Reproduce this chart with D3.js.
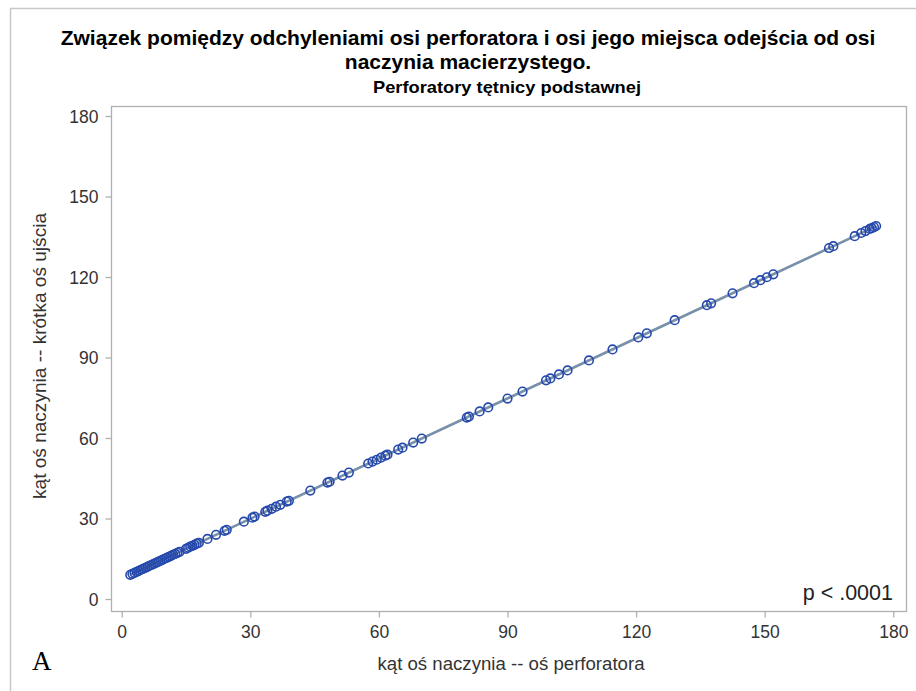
<!DOCTYPE html>
<html>
<head>
<meta charset="utf-8">
<script src="https://cdn.jsdelivr.net/npm/d3@7"></script>
<style>
  html, body { margin: 0; padding: 0; background: #fff; }
  svg { display: block; }
</style>
</head>
<body>
<svg id="chart" width="916" height="691"></svg>
<script>
// Angle of the vessel axis vs. perforator axis (x) and vs. the short axis of the ostium (y)
const perforatorAngle = [
  2.0, 2.5, 3.0, 3.5, 4.0, 4.5, 5.0, 5.5, 6.0, 6.5, 7.0, 7.5, 8.0, 8.5, 9.0, 9.5,
  10.0, 10.5, 11.0, 11.5, 12.0, 12.5, 13.0, 13.5,
  15.0, 15.5, 16.0, 16.5, 17.0, 17.5, 18.0,
  20.0, 22.0, 24.0, 24.5, 28.5, 30.5, 31.0, 33.5, 34.0, 35.0, 36.0, 37.0, 38.5, 39.0,
  44.0, 48.0, 48.5, 51.5, 53.0, 57.5, 58.5, 59.5, 60.5, 61.5, 62.0, 64.5, 65.5, 68.0, 70.0,
  80.5, 81.0, 83.5, 85.5, 90.0, 93.5, 99.0, 100.0, 102.0, 104.0, 109.0, 114.5,
  120.5, 122.5, 129.0, 136.5, 137.5, 142.5, 147.5, 149.0, 150.5, 152.0,
  165.0, 166.0, 171.0, 172.5, 173.5, 174.5, 175.0, 175.5, 176.0
];
const ostiumAngle = [
  9.0, 9.4, 9.7, 10.1, 10.5, 10.9, 11.2, 11.6, 12.0, 12.4, 12.7, 13.1, 13.5, 13.8, 14.2, 14.6,
  15.0, 15.3, 15.7, 16.1, 16.5, 16.8, 17.2, 17.6,
  18.7, 19.1, 19.5, 19.8, 20.2, 20.6, 20.9,
  22.4, 23.9, 25.4, 25.8, 28.8, 30.3, 30.7, 32.5, 32.9, 33.6, 34.4, 35.1, 36.3, 36.6,
  40.4, 43.4, 43.7, 46.0, 47.1, 50.5, 51.2, 51.9, 52.7, 53.4, 53.8, 55.7, 56.4, 58.3, 59.8,
  67.6, 68.0, 69.9, 71.4, 74.7, 77.3, 81.5, 82.2, 83.7, 85.2, 88.9, 93.0,
  97.5, 99.0, 103.9, 109.5, 110.2, 113.9, 117.7, 118.8, 119.9, 121.0,
  130.8, 131.5, 135.2, 136.4, 137.1, 137.9, 138.2, 138.6, 139.0
];
// Fitted regression line: intercept and slope
const fitIntercept = 7.5;
const fitSlope = 0.747;

const xTicks = [0, 30, 60, 90, 120, 150, 180];
const yTicks = [0, 30, 60, 90, 120, 150, 180];

const titleLines = [
  "Związek pomiędzy odchyleniami osi perforatora i osi jego miejsca odejścia od osi",
  "naczynia macierzystego."
];
const subtitle = "Perforatory tętnicy podstawnej";
const xLabel = "kąt oś naczynia -- oś perforatora";
const yLabel = "kąt oś naczynia -- krótka oś ujścia";
const pText = "p < .0001";
const panelLetter = "A";

const svg = d3.select("#chart");
const W = 916, H = 691;
const frame = { left: 111, right: 906, top: 106, bottom: 611 };

const x = d3.scaleLinear().domain([0, 180]).range([121.7, 893.3]);
const y = d3.scaleLinear().domain([0, 180]).range([599, 116]);

const sans = "'Liberation Sans', Arial, sans-serif";
const axisGray = "#b0b0b0";
const textColor = "#333";

// outer border
svg.append("path")
  .attr("d", `M10.5,${H} V8.5 H${W}`)
  .attr("fill", "none").attr("stroke", "#c8c8c8").attr("stroke-width", 1.5);

// titles
svg.append("g").selectAll("text").data(titleLines).join("text")
  .attr("x", 468).attr("y", (d, i) => 45 + i * 24)
  .attr("text-anchor", "middle")
  .attr("font-family", sans).attr("font-weight", "bold").attr("font-size", 21)
  .attr("fill", "#000").text(d => d);

svg.append("text")
  .attr("x", 507).attr("y", 93).attr("text-anchor", "middle")
  .attr("font-family", sans).attr("font-weight", "bold").attr("font-size", 17)
  .attr("textLength", 268).attr("lengthAdjust", "spacingAndGlyphs")
  .attr("fill", "#000").text(subtitle);

// plot frame
svg.append("rect")
  .attr("x", frame.left + 0.5).attr("y", frame.top + 0.5)
  .attr("width", frame.right - frame.left).attr("height", frame.bottom - frame.top)
  .attr("fill", "none").attr("stroke", axisGray).attr("stroke-width", 1.3);

// axes
const xAxis = svg.append("g")
  .attr("transform", `translate(0,${frame.bottom + 0.5})`)
  .call(d3.axisBottom(x).tickValues(xTicks).tickSize(6).tickPadding(6).tickSizeOuter(0));
const yAxis = svg.append("g")
  .attr("transform", `translate(${frame.left + 0.5},0)`)
  .call(d3.axisLeft(y).tickValues(yTicks).tickSize(6).tickPadding(7).tickSizeOuter(0));
[xAxis, yAxis].forEach(g => {
  g.select(".domain").remove();
  g.selectAll(".tick line").attr("stroke", axisGray).attr("stroke-width", 1.3);
  g.selectAll(".tick text").attr("fill", textColor)
    .attr("font-family", sans).attr("font-size", 17.5);
});
xAxis.selectAll(".tick text").attr("dy", "0.85em");
yAxis.selectAll(".tick text").attr("dy", "0.35em");

// axis labels
svg.append("text")
  .attr("x", 511).attr("y", 670).attr("text-anchor", "middle")
  .attr("font-family", sans).attr("font-size", 17.5).attr("fill", textColor)
  .attr("textLength", 267).attr("lengthAdjust", "spacingAndGlyphs")
  .text(xLabel);
svg.append("text")
  .attr("transform", `translate(46,356) rotate(-90)`)
  .attr("text-anchor", "middle")
  .attr("font-family", sans).attr("font-size", 17.5).attr("fill", textColor)
  .attr("textLength", 286).attr("lengthAdjust", "spacingAndGlyphs")
  .text(yLabel);

// regression line
const xMin = d3.min(perforatorAngle), xMax = d3.max(perforatorAngle);
svg.append("line")
  .attr("x1", x(xMin)).attr("y1", y(fitIntercept + fitSlope * xMin))
  .attr("x2", x(xMax)).attr("y2", y(fitIntercept + fitSlope * xMax))
  .attr("stroke", "#7890aa").attr("stroke-width", 2.6);

// observations
const points = perforatorAngle.map((v, i) => ({ a: v, b: ostiumAngle[i] }));
svg.append("g").selectAll("circle").data(points).join("circle")
  .attr("cx", d => x(d.a)).attr("cy", d => y(d.b)).attr("r", 4.3)
  .attr("fill", "none").attr("stroke", "#2649ac").attr("stroke-width", 1.6);

// p-value annotation
svg.append("text")
  .attr("x", 893).attr("y", 600).attr("text-anchor", "end")
  .attr("font-family", sans).attr("font-size", 21.5).attr("fill", "#222")
  .text(pText);

// panel letter
svg.append("text")
  .attr("x", 32).attr("y", 670)
  .attr("font-family", "'Liberation Serif', 'Times New Roman', serif")
  .attr("font-size", 27).attr("fill", "#000")
  .text(panelLetter);
</script>
</body>
</html>
